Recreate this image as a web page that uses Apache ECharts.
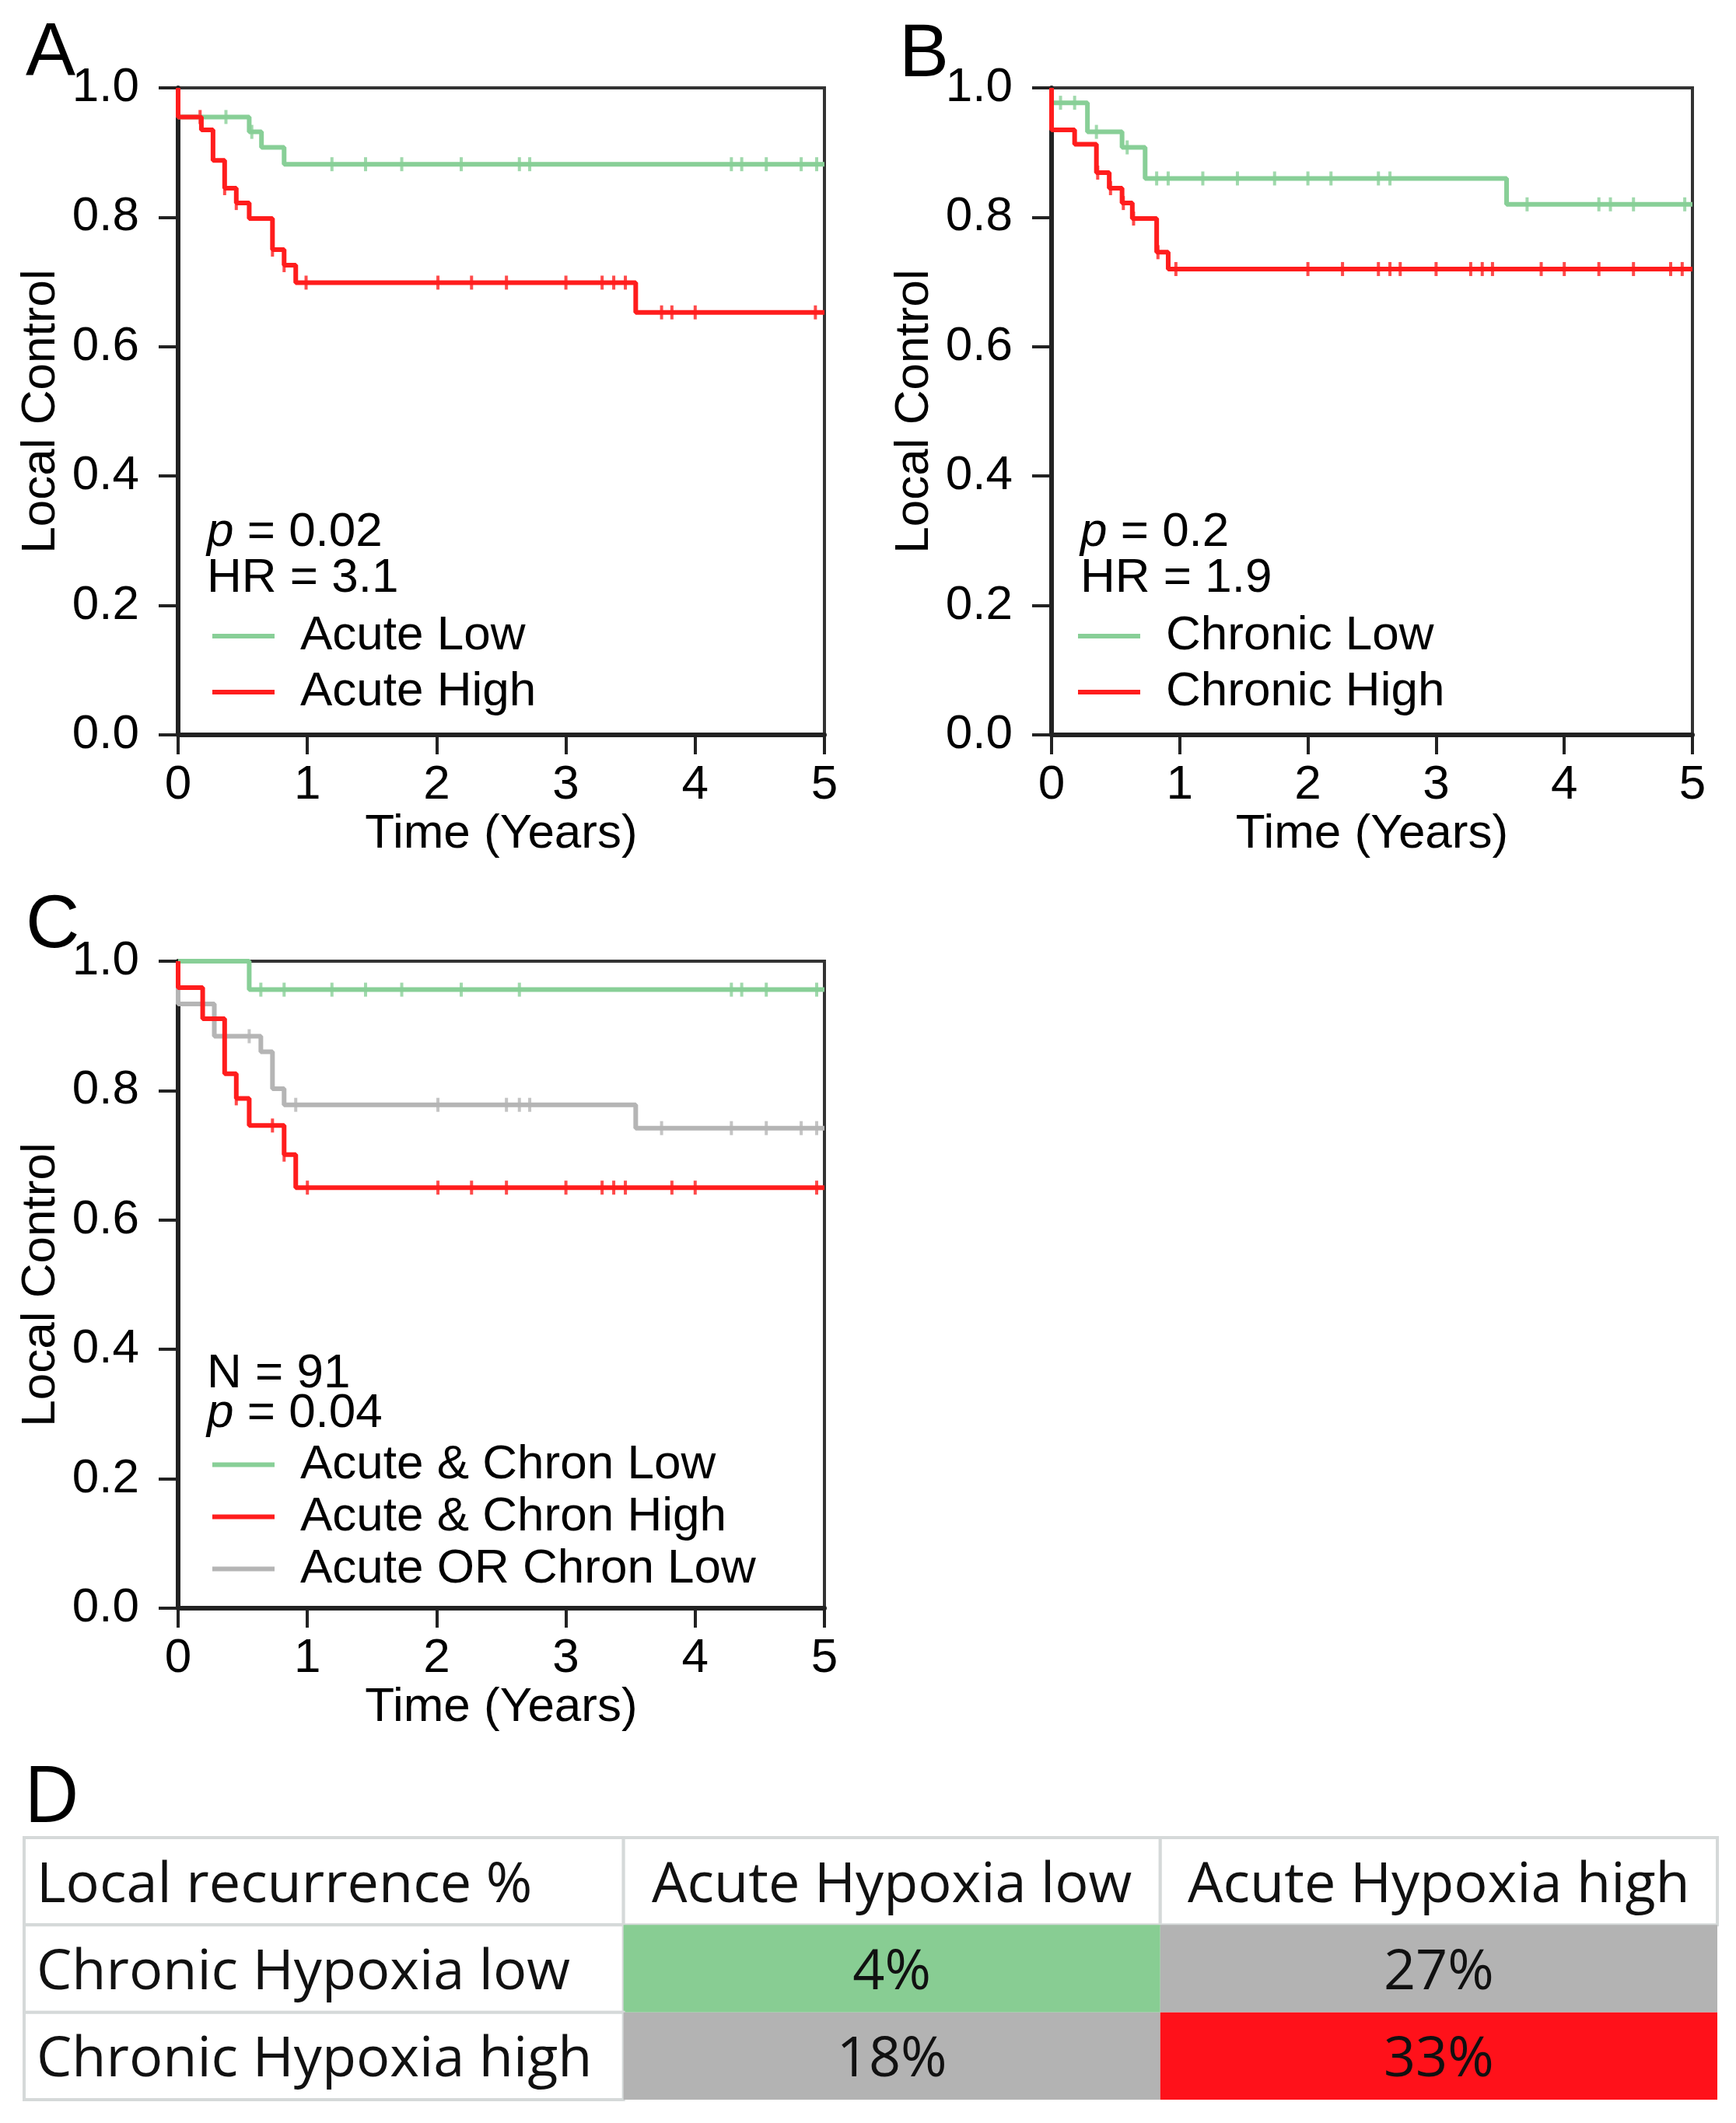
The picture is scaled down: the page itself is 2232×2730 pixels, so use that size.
<!DOCTYPE html>
<html>
<head>
<meta charset="utf-8">
<script src="https://cdn.jsdelivr.net/npm/echarts@6/dist/echarts.min.js"></script>
<style>
  html, body { margin: 0; padding: 0; background: #fff; }
  #chart { width: 2232px; height: 2730px; }
</style>
</head>
<body>
<div id="chart"></div>
<script>
// --- panel A: acute hypoxia
const acuteLowTimes = [0, 0, 0.55, 0.645, 0.82, 5];
const acuteLowSurv = [1.0, 0.955, 0.932, 0.908, 0.882, 0.882];
const acuteLowCens = [0.37, 0.57, 1.19, 1.45, 1.73, 2.19, 2.64, 2.72, 4.28, 4.36, 4.55, 4.82, 4.94];
const acuteHighTimes = [0, 0, 0.18, 0.27, 0.36, 0.45, 0.55, 0.73, 0.82, 0.91, 3.54, 5];
const acuteHighSurv = [1.0, 0.955, 0.935, 0.888, 0.845, 0.822, 0.798, 0.750, 0.726, 0.699, 0.653, 0.653];
const acuteHighCens = [0.17, 0.36, 0.45, 0.73, 0.82, 0.99, 2.01, 2.27, 2.54, 3.0, 3.28, 3.37, 3.46, 3.74, 3.82, 4.0, 4.93];

// --- panel B: chronic hypoxia
const chronicLowTimes = [0, 0, 0.28, 0.55, 0.73, 3.55, 5];
const chronicLowSurv = [1.0, 0.977, 0.932, 0.908, 0.860, 0.820, 0.820];
const chronicLowCens = [0.07, 0.18, 0.35, 0.59, 0.82, 0.91, 1.18, 1.45, 1.74, 2.0, 2.18, 2.55, 2.64, 3.71, 4.27, 4.36, 4.54, 4.94];
const chronicHighTimes = [0, 0, 0.18, 0.35, 0.45, 0.55, 0.63, 0.82, 0.91, 5];
const chronicHighSurv = [1.0, 0.935, 0.913, 0.869, 0.845, 0.822, 0.798, 0.746, 0.720, 0.720];
const chronicHighCens = [0.36, 0.46, 0.56, 0.64, 0.83, 0.97, 2.0, 2.27, 2.55, 2.64, 2.72, 3.0, 3.27, 3.36, 3.44, 3.82, 4.0, 4.27, 4.54, 4.83, 4.92];

// --- panel C: combined
const bothLowTimes = [0, 0.55, 5];
const bothLowSurv = [1.0, 0.956, 0.956];
const bothLowCens = [0.64, 0.82, 1.19, 1.45, 1.73, 2.19, 2.64, 4.28, 4.36, 4.55, 4.94];
const bothHighTimes = [0, 0, 0.19, 0.36, 0.45, 0.55, 0.82, 0.91, 5];
const bothHighSurv = [1.0, 0.959, 0.911, 0.826, 0.788, 0.746, 0.701, 0.650, 0.650];
const bothHighCens = [0.45, 0.73, 0.82, 1.0, 2.01, 2.27, 2.54, 3.0, 3.28, 3.37, 3.46, 3.82, 4.0, 4.94];
const mixedTimes = [0, 0, 0.28, 0.64, 0.73, 0.82, 3.54, 5];
const mixedSurv = [1.0, 0.934, 0.884, 0.860, 0.803, 0.778, 0.742, 0.742];
const mixedCens = [0.19, 0.55, 0.91, 2.01, 2.54, 2.64, 2.72, 3.74, 4.28, 4.55, 4.82, 4.94];

const xTicks = [0, 1, 2, 3, 4, 5];

// --- panel D: table
const tableCorner = 'Local recurrence %';
const tableCols = ['Acute Hypoxia low', 'Acute Hypoxia high'];
const tableRows = ['Chronic Hypoxia low', 'Chronic Hypoxia high'];
const recurrencePct = [[4, 27], [18, 33]];

const GREEN = '#88cf97', RED = '#ff1d1d', GRAY = '#b5b5b5';
const FONT = 'Liberation Sans, Arial, sans-serif';
const TFONT = 'Open Sans, sans-serif';
const FS = 62;
const colEdges = [0, 0.354, 0.671, 1];

function survAt(times, surv, t) {
  let v = surv[0];
  for (let i = 0; i < times.length; i++) if (times[i] <= t) v = surv[i];
  return v;
}

const grids = [
  { left: 229, top: 113, width: 831, height: 832 },
  { left: 1352, top: 113, width: 824, height: 832 },
  { left: 229, top: 1236, width: 831, height: 832 },
];

function xAxisFor(i) {
  return {
    gridIndex: i, type: 'value', min: 0, max: 5, interval: 1,
    name: 'Time (Years)', nameLocation: 'middle', nameGap: 96,
    nameTextStyle: { fontSize: FS, color: '#000', fontFamily: FONT },
    axisLine: { show: true, onZero: false, lineStyle: { color: '#222', width: 6 } },
    axisTick: { show: true, inside: false, length: 25, lineStyle: { color: '#222', width: 4 } },
    axisLabel: { fontSize: FS, color: '#000', fontFamily: FONT, margin: 34,
      customValues: xTicks },
    splitLine: { show: false }
  };
}
function yAxisFor(i) {
  return {
    gridIndex: i, type: 'value', min: 0, max: 1, interval: 0.2,
    name: 'Local Control', nameLocation: 'middle', nameGap: 145, nameRotate: 90,
    nameTextStyle: { fontSize: FS, color: '#000', fontFamily: FONT },
    axisLine: { show: true, onZero: false, lineStyle: { color: '#222', width: 6 } },
    axisTick: { show: true, inside: false, length: 25, lineStyle: { color: '#222', width: 4 } },
    axisLabel: { fontSize: FS, color: '#000', fontFamily: FONT, margin: 50,
      formatter: v => v.toFixed(1) },
    splitLine: { show: false }
  };
}

function kmSeries(name, gi, times, surv, cens, color) {
  return [{
    name, type: 'line', step: 'end', xAxisIndex: gi, yAxisIndex: gi,
    symbol: 'none', clip: false, color,
    lineStyle: { color, width: 6 },
    data: times.map((t, i) => [t, surv[i]])
  }, {
    name: name + ' censored', type: 'scatter', xAxisIndex: gi, yAxisIndex: gi,
    symbol: 'rect', symbolSize: [4, 18], itemStyle: { color }, silent: true,
    data: cens.map(t => [t, survAt(times, surv, t)])
  }];
}

// table cells: [col, row, text, kind]
const cells = [[0, 0, tableCorner, 'head'], [1, 0, tableCols[0], 'head'], [2, 0, tableCols[1], 'head']];
tableRows.forEach((r, ri) => {
  cells.push([0, ri + 1, r, 'head']);
  recurrencePct[ri].forEach((v, ci) => {
    const kind = ri === 0 && ci === 0 ? 'low' : (ri === 1 && ci === 1 ? 'high' : 'mixed');
    cells.push([ci + 1, ri + 1, v + '%', kind]);
  });
});
const cellFill = { head: '#ffffff', low: '#88cd93', mixed: '#b3b3b3', high: '#ff111a' };

function pText(x, y, label, rest) {
  return {
    type: 'text', x, y,
    style: {
      text: (label === 'p' ? '{i|p}' : label) + rest,
      fontSize: FS, fontFamily: FONT, fill: '#000',
      textAlign: 'left', textVerticalAlign: 'middle',
      rich: { i: { fontStyle: 'italic', fontSize: FS, fontFamily: FONT, fill: '#000' } }
    }
  };
}
function letter(x, y, t, font) {
  return { type: 'text', x, y, style: { text: t, font, fill: '#000', textAlign: 'left', textVerticalAlign: 'middle' } };
}

const legendBase = {
  orient: 'vertical', icon: 'rect', itemWidth: 80, itemHeight: 6, itemGap: 0,
  selectedMode: false,
  textStyle: { fontSize: FS, color: '#000', fontFamily: FONT, lineHeight: 72, padding: [0, 0, 0, 28] }
};

const chart = echarts.init(document.getElementById('chart'), null, { renderer: 'canvas' });
chart.setOption({
  backgroundColor: '#fff',
  animation: false,
  grid: [
    ...grids.map(g => Object.assign({ show: true, borderColor: '#333', borderWidth: 4, backgroundColor: 'transparent' }, g)),
    { left: 31, top: 2363, width: 2177, height: 337 }
  ],
  xAxis: [xAxisFor(0), xAxisFor(1), xAxisFor(2),
    { gridIndex: 3, type: 'value', min: 0, max: 1, show: false }],
  yAxis: [yAxisFor(0), yAxisFor(1), yAxisFor(2),
    { gridIndex: 3, type: 'value', min: 0, max: 3, inverse: true, show: false }],
  legend: [
    Object.assign({}, legendBase, { left: 268, top: 777, data: ['Acute Low', 'Acute High'] }),
    Object.assign({}, legendBase, { left: 1381, top: 777, data: ['Chronic Low', 'Chronic High'] }),
    Object.assign({}, legendBase, { left: 268, top: 1845, data: ['Acute & Chron Low', 'Acute & Chron High', 'Acute OR Chron Low'],
      textStyle: Object.assign({}, legendBase.textStyle, { lineHeight: 67 }) })
  ],
  graphic: [
    letter(33, 70, 'A', '96px ' + FONT),
    letter(1156, 72, 'B', '96px ' + FONT),
    letter(33, 1192, 'C', '96px ' + FONT),
    letter(30, 2315, 'D', '100px ' + TFONT),
    pText(266, 685, 'p', ' = 0.02'),
    pText(266, 744, 'HR', ' = 3.1'),
    pText(1389, 685, 'p', ' = 0.2'),
    pText(1389, 744, 'HR', ' = 1.9'),
    pText(266, 1767, 'N', ' = 91'),
    pText(266, 1818, 'p', ' = 0.04')
  ],
  series: [
    ...kmSeries('Acute Low', 0, acuteLowTimes, acuteLowSurv, acuteLowCens, GREEN),
    ...kmSeries('Acute High', 0, acuteHighTimes, acuteHighSurv, acuteHighCens, RED),
    ...kmSeries('Chronic Low', 1, chronicLowTimes, chronicLowSurv, chronicLowCens, GREEN),
    ...kmSeries('Chronic High', 1, chronicHighTimes, chronicHighSurv, chronicHighCens, RED),
    ...kmSeries('Acute & Chron Low', 2, bothLowTimes, bothLowSurv, bothLowCens, GREEN),
    ...kmSeries('Acute OR Chron Low', 2, mixedTimes, mixedSurv, mixedCens, GRAY),
    ...kmSeries('Acute & Chron High', 2, bothHighTimes, bothHighSurv, bothHighCens, RED),
    {
      type: 'custom', xAxisIndex: 3, yAxisIndex: 3, silent: true,
      data: cells.map(c => [c[0], c[1]]),
      renderItem: (params, api) => {
        const cell = cells[params.dataIndex];
        const col = cell[0], row = cell[1];
        const p0 = api.coord([colEdges[col], row]);
        const p1 = api.coord([colEdges[col + 1], row + 1]);
        const isHead = cell[3] === 'head';
        const w = p1[0] - p0[0], h = p1[1] - p0[1];
        const leftAlign = col === 0;
        return {
          type: 'group',
          children: [{
            type: 'rect',
            shape: { x: p0[0], y: p0[1], width: w, height: h },
            style: { fill: cellFill[cell[3]], stroke: isHead ? '#d5d9d9' : null, lineWidth: 4 }
          }, {
            type: 'text',
            style: {
              text: cell[2],
              x: leftAlign ? p0[0] + 16 : p0[0] + w / 2,
              y: p0[1] + h / 2 + 6,
              align: leftAlign ? 'left' : 'center',
              verticalAlign: 'middle',
              fontSize: 72, fontFamily: TFONT, fill: '#111'
            }
          }]
        };
      }
    }
  ]
});
</script>
</body>
</html>
